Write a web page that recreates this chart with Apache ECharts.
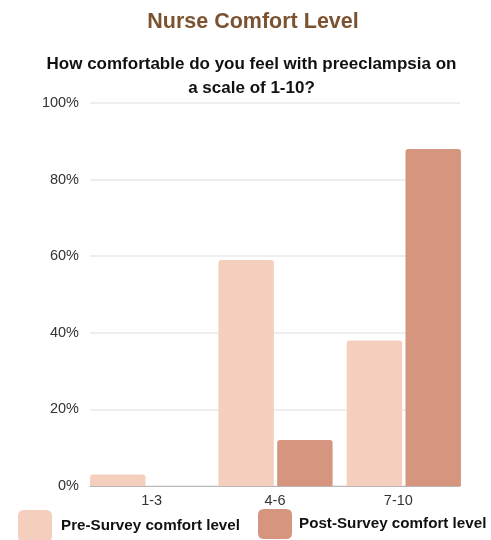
<!DOCTYPE html>
<html>
<head>
<meta charset="utf-8">
<script src="https://cdn.jsdelivr.net/npm/echarts@6/dist/echarts.min.js"></script>
<style>
  html, body { margin: 0; padding: 0; background: #ffffff; }
  #chart { width: 491px; height: 540px; }
</style>
</head>
<body>
<div id="chart"></div>
<script>
// Comfort rating buckets and share of nurses (%) in each
const categories = ['1-3', '4-6', '7-10'];
const preSurvey = [3, 59, 38];
const postSurvey = [0, 12, 88];
const seriesNames = ['Pre-Survey comfort level', 'Post-Survey comfort level'];
const yTicks = [0, 20, 40, 60, 80, 100];

const preColor = '#f5cfbd';
const postColor = '#d5957f';
const font = 'Liberation Sans, Arial, sans-serif';

const chart = echarts.init(document.getElementById('chart'), null, { renderer: 'canvas' });

chart.setOption({
  backgroundColor: '#ffffff',
  animation: false,
  textStyle: { fontFamily: font },
  title: [
    {
      text: 'Nurse Comfort Level',
      left: 248,
      textAlign: 'center',
      top: 6,
      textStyle: { fontSize: 21.5, fontWeight: 'bold', color: '#7b5330', fontFamily: font }
    },
    {
      text: 'How comfortable do you feel with preeclampsia on\na scale of 1-10?',
      left: 246.5,
      textAlign: 'center',
      top: 47,
      textStyle: { fontSize: 17, fontWeight: 'bold', color: '#111111', lineHeight: 24, fontFamily: font }
    }
  ],
  legend: [
    {
      data: [seriesNames[0]],
      left: 13,
      top: 505,
      itemWidth: 34,
      itemHeight: 32,
      itemGap: 12,
      icon: 'path://M6,0 L28,0 Q34,0 34,6 L34,26 Q34,32 28,32 L6,32 Q0,32 0,26 L0,6 Q0,0 6,0 Z',
      textStyle: { fontSize: 15.2, fontWeight: 'bold', color: '#111111', fontFamily: font, padding: [16, 0, 0, 4] }
    },
    {
      data: [seriesNames[1]],
      left: 253,
      top: 504,
      itemWidth: 34,
      itemHeight: 30,
      itemGap: 12,
      icon: 'path://M6,0 L28,0 Q34,0 34,6 L34,24 Q34,30 28,30 L6,30 Q0,30 0,24 L0,6 Q0,0 6,0 Z',
      textStyle: { fontSize: 15.2, fontWeight: 'bold', color: '#111111', fontFamily: font, padding: [4, 0, 0, 2] }
    }
  ],
  grid: [
    // frame: grid lines, value labels, baseline and category labels
    { left: 90, right: 31, top: 103, bottom: 54 },
    // bars: slightly wider band so the bar groups fill the frame
    { left: 83, width: 385, top: 103, bottom: 54 }
  ],
  xAxis: [
    {
      type: 'category',
      gridIndex: 0,
      data: categories,
      axisLine: { show: true, lineStyle: { color: '#b8b8b8', width: 1 } },
      axisTick: { show: false },
      axisLabel: { color: '#333333', fontSize: 14.5, margin: 7 },
      splitLine: { show: false }
    },
    {
      type: 'category',
      gridIndex: 1,
      data: categories,
      show: false
    }
  ],
  yAxis: [
    {
      type: 'value',
      gridIndex: 0,
      min: 0,
      max: 100,
      interval: 20,
      axisLine: { show: false },
      axisTick: { show: false },
      axisLabel: {
        color: '#333333',
        fontSize: 14.5,
        margin: 11,
        formatter: v => (yTicks.includes(v) ? v + '%' : '')
      },
      splitLine: { show: true, lineStyle: { color: '#e8e8e8', width: 1.5 } }
    },
    {
      type: 'value',
      gridIndex: 1,
      min: 0,
      max: 100,
      show: false
    }
  ],
  series: [
    {
      name: seriesNames[0],
      type: 'bar',
      xAxisIndex: 1,
      yAxisIndex: 1,
      data: preSurvey,
      barGap: '6%',
      barCategoryGap: '11%',
      itemStyle: { color: preColor, borderRadius: [3, 3, 0, 0] },
      z: 3
    },
    {
      name: seriesNames[1],
      type: 'bar',
      xAxisIndex: 1,
      yAxisIndex: 1,
      data: postSurvey,
      barGap: '6%',
      barCategoryGap: '11%',
      itemStyle: { color: postColor, borderRadius: [3, 3, 0, 0] },
      z: 3
    }
  ]
});
</script>
</body>
</html>
